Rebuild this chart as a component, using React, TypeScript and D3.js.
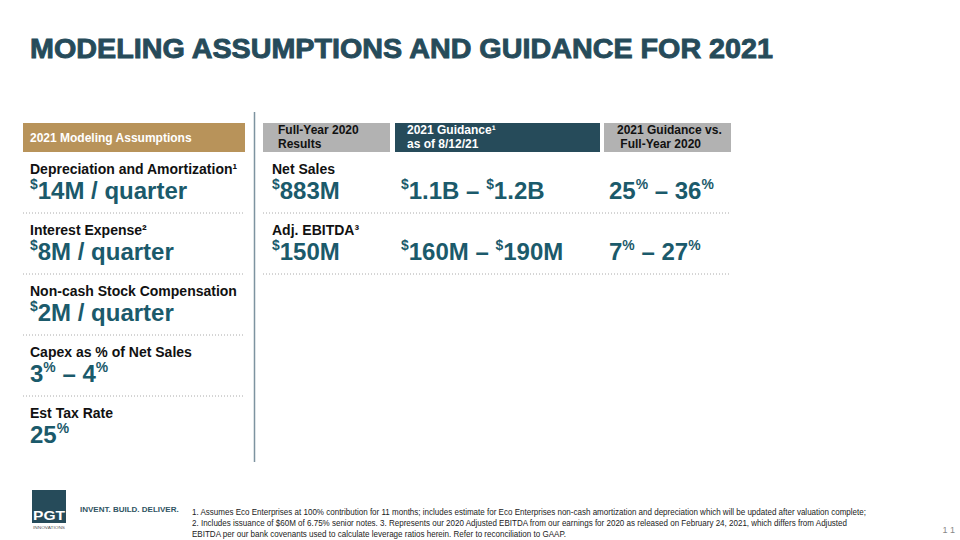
import React from "react";
import * as d3 from "d3";

const titleText = "MODELING ASSUMPTIONS AND GUIDANCE FOR 2021";
const assumptionHeader = "2021 Modeling Assumptions";
const assumptionLabels = [
  "Depreciation and Amortization¹",
  "Interest Expense²",
  "Non-cash Stock Compensation",
  "Capex as % of Net Sales",
  "Est Tax Rate",
];
const assumptionValues = ["$14M / quarter", "$8M / quarter", "$2M / quarter", "3% – 4%", "25%"];
const guidanceHeaders = [
  ["Full-Year 2020", "Results"],
  ["2021 Guidance¹", "as of 8/12/21"],
  ["2021 Guidance vs.", " Full-Year 2020"],
];
const metricLabels = ["Net Sales", "Adj. EBITDA³"];
const fy2020Values = ["$883M", "$150M"];
const guidance2021Values = ["$1.1B – $1.2B", "$160M – $190M"];
const changeValues = ["25% – 36%", "7% – 27%"];
const footnotes = [
  "1. Assumes Eco Enterprises at 100% contribution for 11 months; includes estimate for Eco Enterprises non-cash amortization and depreciation which will be updated after valuation complete;",
  "2. Includes issuance of $60M of 6.75% senior notes. 3. Represents our 2020 Adjusted EBITDA from our earnings for 2020 as released on February 24, 2021, which differs from Adjusted",
  "EBITDA per our bank covenants used to calculate leverage ratios herein. Refer to reconciliation to GAAP.",
];
const footnoteWidths = [674, 655, 374];
const tagline = "INVENT. BUILD. DELIVER.";
const pageNumber = "1 1";

const TEAL = "#1b5a6b";
const DARK = "#264b5a";
const GOLD = "#b8935a";
const GRAY = "#b2b2b2";
const FONT = "'Liberation Sans', Arial, Helvetica, sans-serif";

function Value({ x, y, text, size }: { x: number; y: number; text: string; size: number }) {
  const parts = text.split(/([$%])/).filter((p) => p.length > 0);
  const shift = size * 0.4;
  let cur = 0;
  return (
    <text x={x} y={y} fontFamily={FONT} fontWeight="bold" fontSize={size} fill={TEAL}>
      {parts.map((p, i) => {
        const sup = p === "$" || p === "%";
        const target = sup ? -shift : 0;
        const dy = target - cur;
        cur = target;
        return (
          <tspan key={i} dy={dy} fontSize={sup ? size * 0.58 : size}>
            {p}
          </tspan>
        );
      })}
    </text>
  );
}

export default function App() {
  const W = 960;
  const H = 540;
  const leftRow = d3.scaleLinear().domain([0, 4]).range([174, 418]);
  const rightRow = d3.scaleLinear().domain([0, 1]).range([174, 235]);
  const valueOffset = 25;
  const dotOffset = 39;
  const headerBoxes = [
    { x0: 263, x1: 390, fill: GRAY, color: "#111", tx: [278, 278] },
    { x0: 395, x1: 600, fill: DARK, color: "#fff", tx: [407, 407] },
    { x0: 604, x1: 731, fill: GRAY, color: "#111", tx: [617, 617] },
  ];
  const valueCols = [
    { x: 272, vals: fy2020Values },
    { x: 401, vals: guidance2021Values },
    { x: 609, vals: changeValues },
  ];
  return (
    <svg width={W} height={H} style={{ position: "absolute", left: 0, top: 0, background: "#fff" }}>
      <rect x={0} y={0} width={W} height={H} fill="#fff" />
      <text x={30} y={58} fontFamily={FONT} fontWeight={900} fontSize={28} fill={DARK} stroke={DARK} strokeWidth={0.9} textLength={743} lengthAdjust="spacingAndGlyphs">
        {titleText}
      </text>

      {/* left header */}
      <rect x={23} y={123} width={222} height={29} fill={GOLD} />
      <text x={30} y={142} fontFamily={FONT} fontWeight="bold" fontSize={12} fill="#fff">
        {assumptionHeader}
      </text>

      {assumptionLabels.map((lab, i) => {
        const y = leftRow(i);
        return (
          <g key={i}>
            <text x={30} y={y} fontFamily={FONT} fontWeight="bold" fontSize={14} fill="#111">
              {lab}
            </text>
            <Value x={30} y={y + valueOffset} text={assumptionValues[i]} size={24} />
            {i < assumptionLabels.length - 1 && (
              <line x1={23} x2={245} y1={y + dotOffset} y2={y + dotOffset} stroke="#aaa" strokeWidth={1} strokeDasharray="1,2" />
            )}
          </g>
        );
      })}

      {/* vertical divider */}
      <line x1={254.5} x2={254.5} y1={112} y2={462} stroke="#7d93a0" strokeWidth={1.5} />

      {/* right headers */}
      {headerBoxes.map((b, i) => (
        <g key={i}>
          <rect x={b.x0} y={123} width={b.x1 - b.x0} height={29} fill={b.fill} />
          {guidanceHeaders[i].map((t, j) => (
            <text key={j} x={b.tx[j]} y={134 + j * 14} fontFamily={FONT} fontWeight="bold" fontSize={12} fill={b.color} style={{ whiteSpace: "pre" }}>
              {t}
            </text>
          ))}
        </g>
      ))}

      {metricLabels.map((lab, i) => {
        const y = rightRow(i);
        return (
          <g key={i}>
            <text x={272} y={y} fontFamily={FONT} fontWeight="bold" fontSize={14} fill="#111">
              {lab}
            </text>
            {valueCols.map((c, k) => (
              <Value key={k} x={c.x} y={y + valueOffset} text={c.vals[i]} size={24} />
            ))}
            <line x1={263} x2={731} y1={y + dotOffset} y2={y + dotOffset} stroke="#aaa" strokeWidth={1} strokeDasharray="1,2" />
          </g>
        );
      })}

      {/* logo */}
      <rect x={32} y={490} width={34} height={33} fill={DARK} />
      <text x={49} y={520} textAnchor="middle" fontFamily={FONT} fontWeight="bold" fontSize={13} fill="#fff" textLength={32} lengthAdjust="spacingAndGlyphs">
        PGT
      </text>
      <text x={49} y={528.5} textAnchor="middle" fontFamily={FONT} fontSize={3.5} fill="#555" textLength={32} lengthAdjust="spacingAndGlyphs">
        INNOVATIONS
      </text>
      <text x={80} y={512} fontFamily={FONT} fontWeight="bold" fontSize={8} fill="#2f5463">
        {tagline}
      </text>

      {footnotes.map((f, i) => (
        <text key={i} x={192} y={515 + i * 11} fontFamily={FONT} fontSize={8.6} fill="#222" textLength={footnoteWidths[i]} lengthAdjust="spacingAndGlyphs">
          {f}
        </text>
      ))}
      <text x={955} y={533} textAnchor="end" fontFamily={FONT} fontSize={9} fill="#888">
        {pageNumber}
      </text>
    </svg>
  );
}
